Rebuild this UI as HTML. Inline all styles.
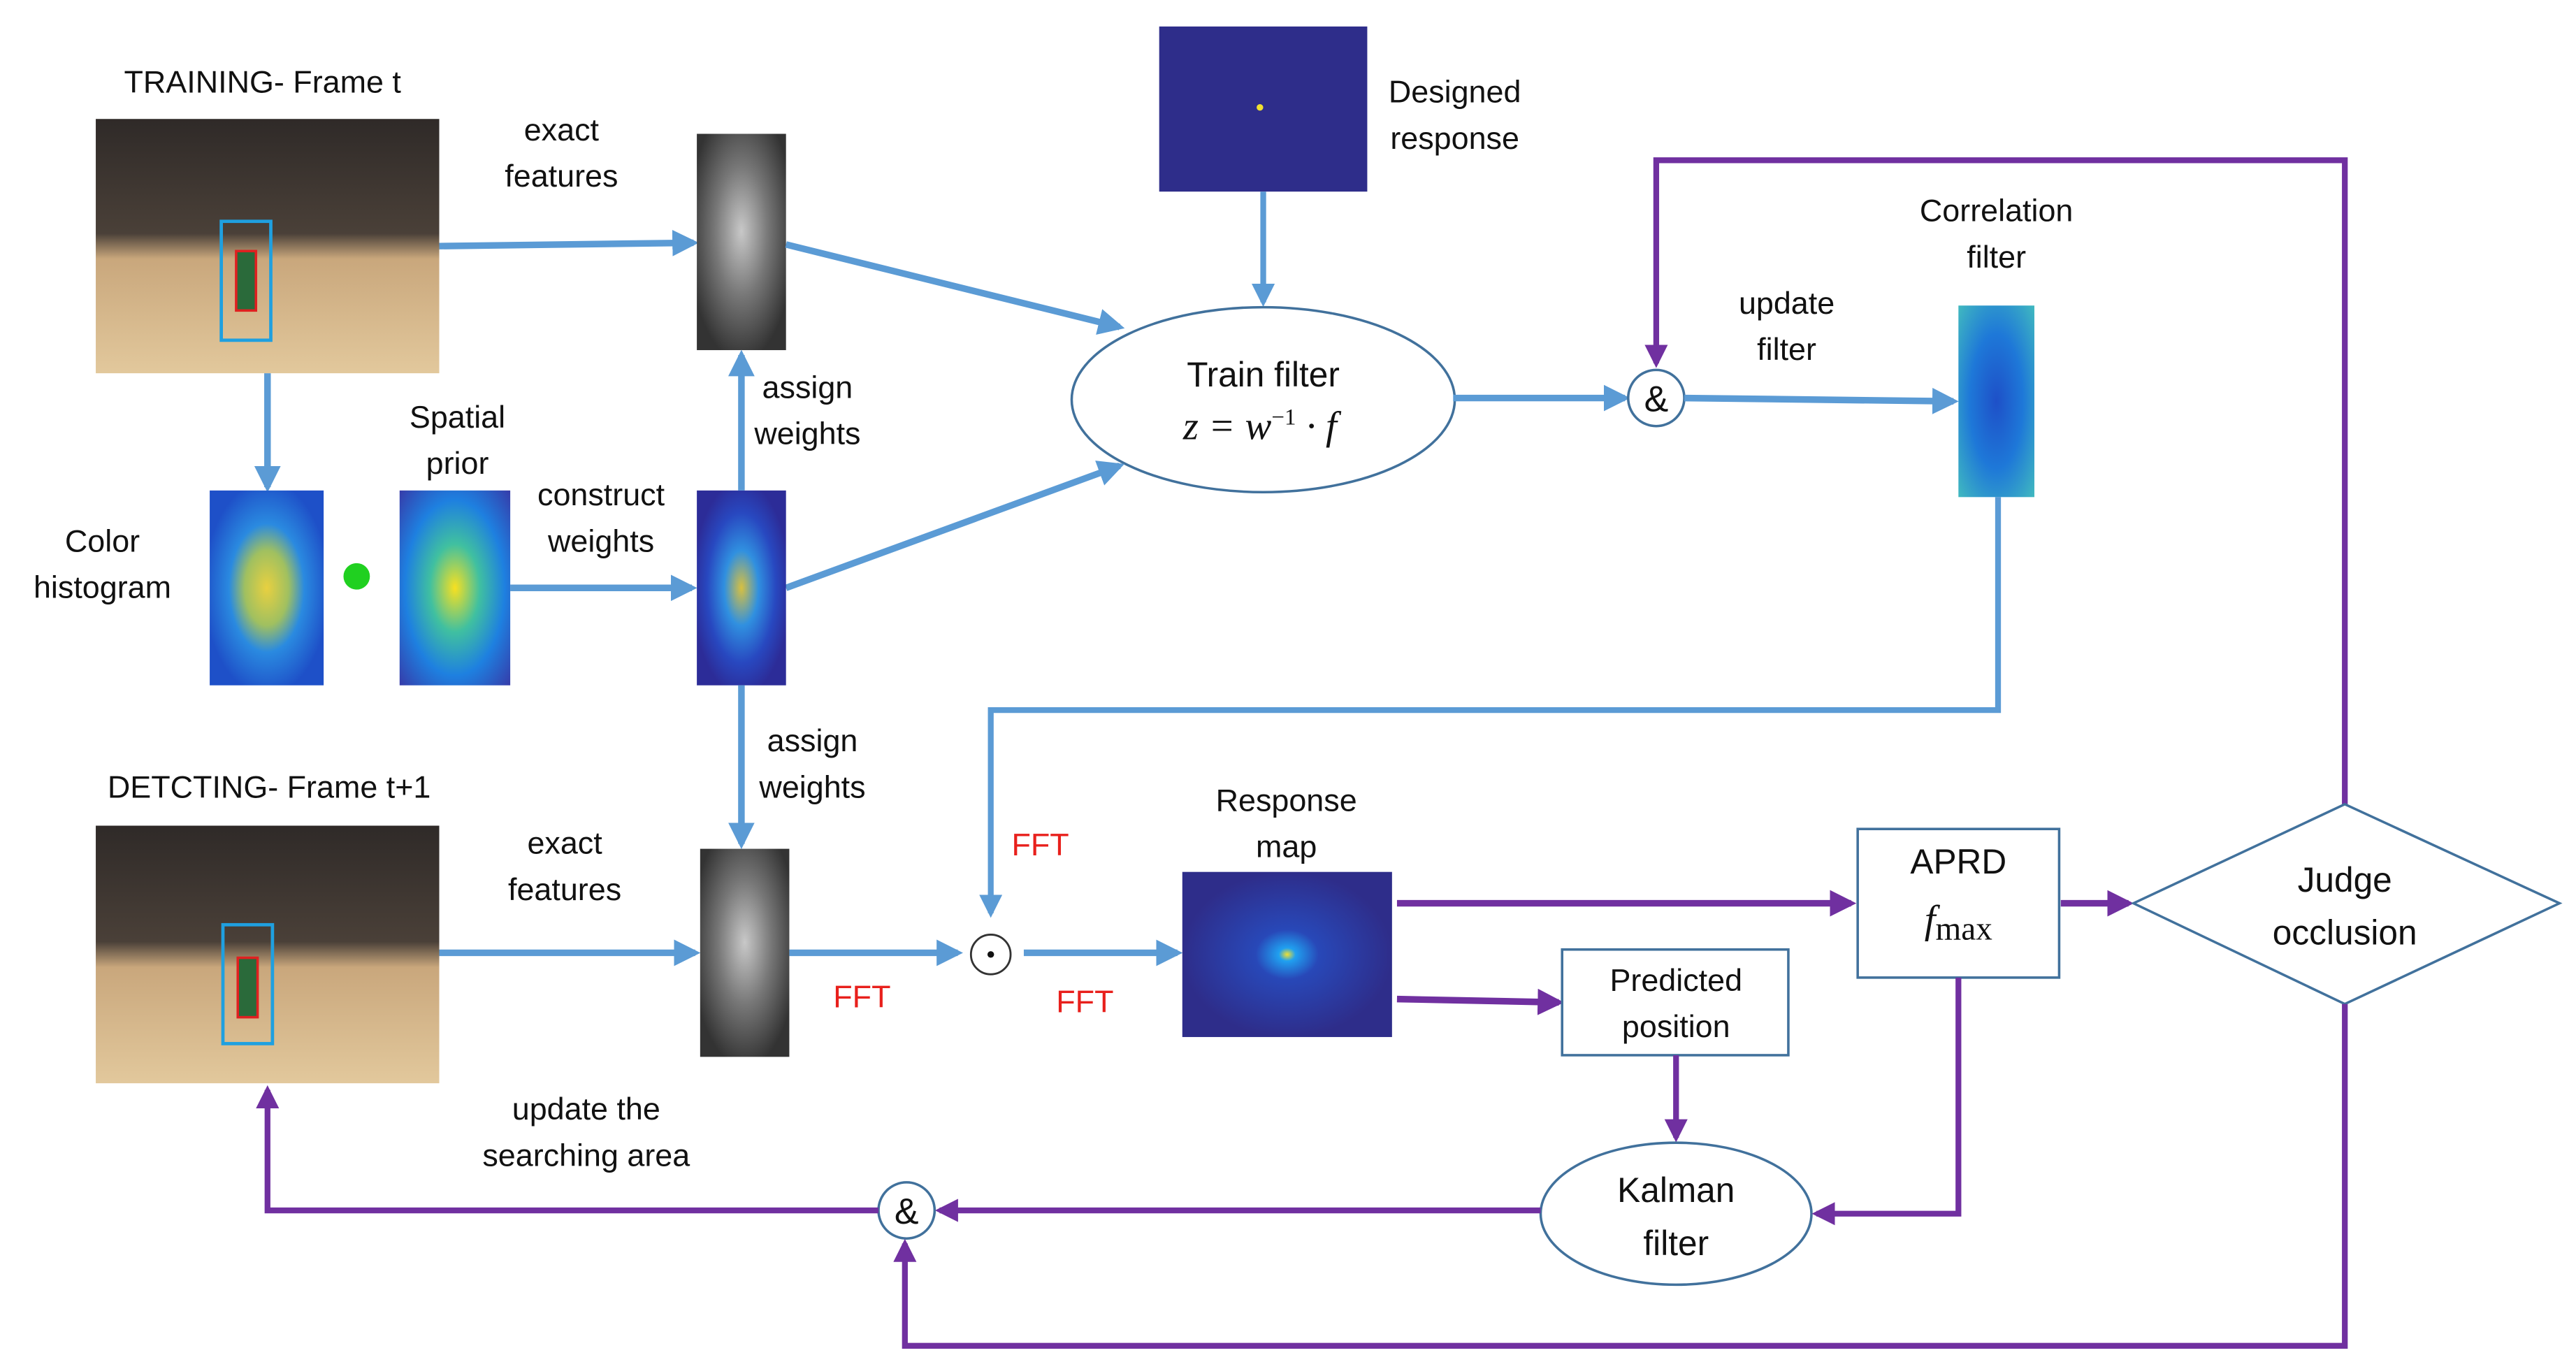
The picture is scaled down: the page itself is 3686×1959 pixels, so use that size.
<!DOCTYPE html>
<html><head><meta charset="utf-8"><style>
html,body{margin:0;padding:0;background:#fff;}
svg{display:block;}
text{font-family:"Liberation Sans",sans-serif;font-size:19px;fill:#111;text-anchor:middle;}
.m{font-family:"Liberation Serif",serif;font-style:italic;font-size:24px;}
.r{fill:#e8201c;}
</style></head><body>
<svg width="3686" height="1959" viewBox="0 0 1560 829" xmlns="http://www.w3.org/2000/svg">
<defs>
<marker id="ab" markerWidth="4" markerHeight="4" refX="3.2" refY="2" orient="auto" markerUnits="strokeWidth"><path d="M0,0 L4,2 L0,4 z" fill="#5b9bd5"/></marker>
<marker id="ap" markerWidth="4" markerHeight="4" refX="3.2" refY="2" orient="auto" markerUnits="strokeWidth"><path d="M0,0 L4,2 L0,4 z" fill="#7030a0"/></marker>
<linearGradient id="court" x1="0" y1="0" x2="0" y2="1"><stop offset="0" stop-color="#2f2a28"/><stop offset="0.45" stop-color="#4a4038"/><stop offset="0.55" stop-color="#c9a77c"/><stop offset="1" stop-color="#e2c89c"/></linearGradient>
<radialGradient id="gray" cx="0.5" cy="0.45" r="0.6"><stop offset="0" stop-color="#c8c8c8"/><stop offset="0.5" stop-color="#777"/><stop offset="1" stop-color="#333"/></radialGradient>
<radialGradient id="hist" cx="0.5" cy="0.5" r="0.55"><stop offset="0" stop-color="#e8d040"/><stop offset="0.35" stop-color="#a0c060"/><stop offset="0.6" stop-color="#2a8ae0"/><stop offset="1" stop-color="#1e50c8"/></radialGradient>
<radialGradient id="prior" cx="0.5" cy="0.5" r="0.75"><stop offset="0" stop-color="#f8e020"/><stop offset="0.3" stop-color="#40c0a0"/><stop offset="0.6" stop-color="#1e80e0"/><stop offset="1" stop-color="#3a30a0"/></radialGradient>
<radialGradient id="wts" cx="0.5" cy="0.5" r="0.55"><stop offset="0" stop-color="#d8c040"/><stop offset="0.35" stop-color="#3090e0"/><stop offset="0.7" stop-color="#2848c0"/><stop offset="1" stop-color="#2c2c98"/></radialGradient>
<radialGradient id="corr" cx="0.5" cy="0.5" r="0.7"><stop offset="0" stop-color="#1e50c8"/><stop offset="0.5" stop-color="#1e78d8"/><stop offset="1" stop-color="#40b8c0"/></radialGradient>
<radialGradient id="resp" cx="0.5" cy="0.5" r="0.5"><stop offset="0" stop-color="#f0e030"/><stop offset="0.08" stop-color="#20a0f0"/><stop offset="0.3" stop-color="#2848b8"/><stop offset="1" stop-color="#2e2d8a"/></radialGradient>
</defs>

<!-- training image -->
<rect x="58" y="72" width="208" height="154" fill="url(#court)"/>
<rect x="134" y="134" width="30" height="72" fill="none" stroke="#1fa0e0" stroke-width="2"/>
<rect x="143" y="152" width="12" height="36" fill="#2a6a3a" stroke="#e02020" stroke-width="1.5"/>
<text x="159" y="56">TRAINING- Frame t</text>
<text x="340" y="85">exact</text><text x="340" y="113">features</text>
<line x1="266" y1="149" x2="420" y2="147" stroke="#5b9bd5" stroke-width="4" marker-end="url(#ab)"/>
<rect x="422" y="81" width="54" height="131" fill="url(#gray)"/>

<!-- designed response -->
<rect x="702" y="16" width="126" height="100" fill="#2e2d8a"/>
<circle cx="763" cy="65" r="2" fill="#f0e030"/>
<text x="881" y="62">Designed</text><text x="881" y="90">response</text>
<line x1="765" y1="116" x2="765" y2="183" stroke="#5b9bd5" stroke-width="3.5" marker-end="url(#ab)"/>

<ellipse cx="765" cy="242" rx="116" ry="56" fill="#fff" stroke="#41719c" stroke-width="1.5"/>
<text x="765" y="234" style="font-size:21px">Train filter</text>
<text x="763" y="266" class="m">z = w<tspan dy="-9" font-size="14" font-style="normal">−1</tspan><tspan dy="9"> · f</tspan></text>
<line x1="476" y1="148" x2="678" y2="198" stroke="#5b9bd5" stroke-width="4" marker-end="url(#ab)"/>
<line x1="476" y1="356" x2="678" y2="282" stroke="#5b9bd5" stroke-width="4" marker-end="url(#ab)"/>
<line x1="880" y1="241" x2="984" y2="241" stroke="#5b9bd5" stroke-width="4" marker-end="url(#ab)"/>
<circle cx="1003" cy="241" r="17" fill="#fff" stroke="#41719c" stroke-width="1.5"/>
<text x="1003" y="249" style="font-size:22px">&amp;</text>
<line x1="1020" y1="241" x2="1183" y2="243" stroke="#5b9bd5" stroke-width="4" marker-end="url(#ab)"/>
<rect x="1186" y="185" width="46" height="116" fill="url(#corr)"/>
<text x="1209" y="134">Correlation</text><text x="1209" y="162">filter</text>
<text x="1082" y="190">update</text><text x="1082" y="218">filter</text>

<!-- purple top loop -->
<polyline points="1420,487 1420,97 1003,97 1003,220" fill="none" stroke="#7030a0" stroke-width="3.5" marker-end="url(#ap)"/>
<!-- blue loop to fft -->
<polyline points="1210,301 1210,430 600,430 600,553" fill="none" stroke="#5b9bd5" stroke-width="3.5" marker-end="url(#ab)"/>
<text x="630" y="518" class="r">FFT</text>

<!-- middle row -->
<line x1="162" y1="226" x2="162" y2="295" stroke="#5b9bd5" stroke-width="4" marker-end="url(#ab)"/>
<rect x="127" y="297" width="69" height="118" fill="url(#hist)"/>
<text x="62" y="334">Color</text><text x="62" y="362">histogram</text>
<circle cx="216" cy="349" r="8" fill="#20d020"/>
<rect x="242" y="297" width="67" height="118" fill="url(#prior)"/>
<text x="277" y="259">Spatial</text><text x="277" y="287">prior</text>
<line x1="309" y1="356" x2="419" y2="356" stroke="#5b9bd5" stroke-width="4" marker-end="url(#ab)"/>
<text x="364" y="306">construct</text><text x="364" y="334">weights</text>
<rect x="422" y="297" width="54" height="118" fill="url(#wts)"/>
<line x1="449" y1="297" x2="449" y2="215" stroke="#5b9bd5" stroke-width="4" marker-end="url(#ab)"/>
<text x="489" y="241">assign</text><text x="489" y="269">weights</text>
<line x1="449" y1="415" x2="449" y2="511" stroke="#5b9bd5" stroke-width="4" marker-end="url(#ab)"/>
<text x="492" y="455">assign</text><text x="492" y="483">weights</text>

<!-- detecting row -->
<text x="163" y="483">DETCTING- Frame t+1</text>
<rect x="58" y="500" width="208" height="156" fill="url(#court)"/>
<rect x="135" y="560" width="30" height="72" fill="none" stroke="#1fa0e0" stroke-width="2"/>
<rect x="144" y="580" width="12" height="36" fill="#2a6a3a" stroke="#e02020" stroke-width="1.5"/>
<text x="342" y="517">exact</text><text x="342" y="545">features</text>
<line x1="266" y1="577" x2="421" y2="577" stroke="#5b9bd5" stroke-width="4" marker-end="url(#ab)"/>
<rect x="424" y="514" width="54" height="126" fill="url(#gray)"/>
<line x1="478" y1="577" x2="580" y2="577" stroke="#5b9bd5" stroke-width="4" marker-end="url(#ab)"/>
<text x="522" y="610" class="r">FFT</text>
<circle cx="600" cy="578" r="12" fill="#fff" stroke="#333" stroke-width="1.2"/>
<circle cx="600" cy="578" r="2" fill="#111"/>
<line x1="620" y1="577" x2="713" y2="577" stroke="#5b9bd5" stroke-width="4" marker-end="url(#ab)"/>
<text x="657" y="613" class="r">FFT</text>
<rect x="716" y="528" width="127" height="100" fill="url(#resp)"/>
<text x="779" y="491">Response</text><text x="779" y="519">map</text>

<line x1="846" y1="547" x2="1121" y2="547" stroke="#7030a0" stroke-width="4" marker-end="url(#ap)"/>
<rect x="1125" y="502" width="122" height="90" fill="#fff" stroke="#41719c" stroke-width="1.5"/>
<text x="1186" y="529" style="font-size:21px">APRD</text>
<text x="1186" y="565" style="font-family:'Liberation Serif',serif;font-size:24px"><tspan font-style="italic">f</tspan><tspan font-size="20" dy="4">max</tspan></text>
<line x1="846" y1="605" x2="944" y2="607" stroke="#7030a0" stroke-width="4" marker-end="url(#ap)"/>
<rect x="946" y="575" width="137" height="64" fill="#fff" stroke="#41719c" stroke-width="1.5"/>
<text x="1015" y="600">Predicted</text><text x="1015" y="628">position</text>
<line x1="1248" y1="547" x2="1289" y2="547" stroke="#7030a0" stroke-width="4" marker-end="url(#ap)"/>
<polygon points="1292,547 1420,487 1550,547 1420,608" fill="#fff" stroke="#41719c" stroke-width="1.5"/>
<text x="1420" y="540" style="font-size:21px">Judge</text><text x="1420" y="572" style="font-size:21px">occlusion</text>

<line x1="1015" y1="639" x2="1015" y2="689" stroke="#7030a0" stroke-width="3.5" marker-end="url(#ap)"/>
<ellipse cx="1015" cy="735" rx="82" ry="43" fill="#fff" stroke="#41719c" stroke-width="1.5"/>
<text x="1015" y="728" style="font-size:21px">Kalman</text><text x="1015" y="760" style="font-size:21px">filter</text>
<polyline points="1186,592 1186,735 1100,735" fill="none" stroke="#7030a0" stroke-width="3.5" marker-end="url(#ap)"/>
<line x1="933" y1="733" x2="569" y2="733" stroke="#7030a0" stroke-width="3.5" marker-end="url(#ap)"/>
<circle cx="549" cy="733" r="17" fill="#fff" stroke="#41719c" stroke-width="1.5"/>
<text x="549" y="741" style="font-size:22px">&amp;</text>
<polyline points="532,733 162,733 162,660" fill="none" stroke="#7030a0" stroke-width="3.5" marker-end="url(#ap)"/>
<polyline points="1420,608 1420,815 548,815 548,753" fill="none" stroke="#7030a0" stroke-width="3.5" marker-end="url(#ap)"/>
<text x="355" y="678">update the</text><text x="355" y="706">searching area</text>
</svg>
</body></html>
